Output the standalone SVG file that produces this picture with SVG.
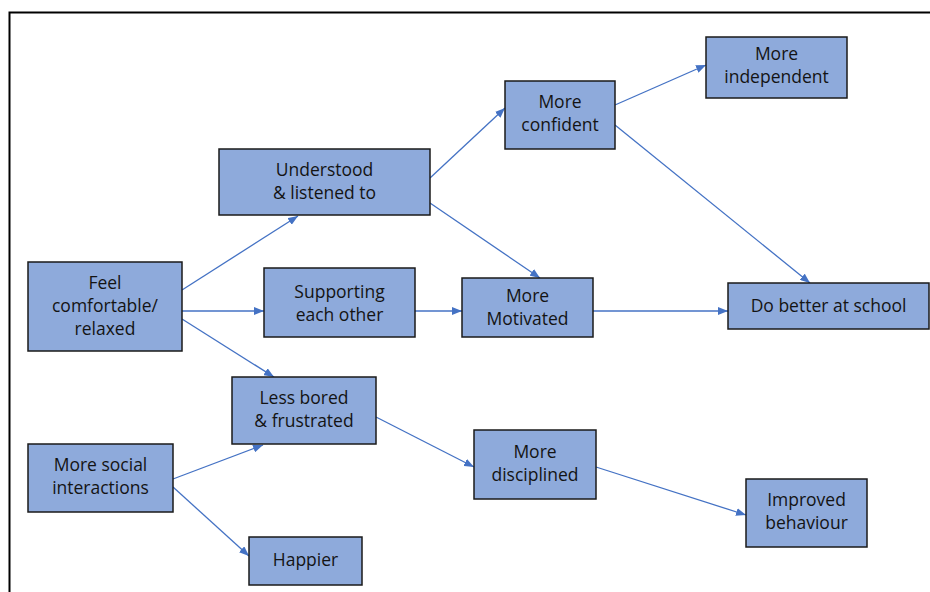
<svg xmlns="http://www.w3.org/2000/svg" width="930" height="592" viewBox="0 0 930 592">
<defs>
<marker id="ah" viewBox="0 0 10 8" refX="10" refY="4" markerWidth="10" markerHeight="8" markerUnits="userSpaceOnUse" orient="auto">
<path d="M0,0 L10,4 L0,8 Z" fill="#4472c4"/>
</marker>
<style>
.box{fill:#8eaadb;stroke:#1a1a1a;stroke-width:1.5}
.t{font-family:"Open Sans","Noto Sans","DejaVu Sans",sans-serif;font-size:17.5px;fill:#141414;text-anchor:middle}
.c{stroke:#4472c4;stroke-width:1.3;fill:none;marker-end:url(#ah)}
</style>
</defs>
<rect width="930" height="592" fill="#ffffff"/>
<path d="M9.5,592 V12.5 H930" fill="none" stroke="#000" stroke-width="2"/>
<g id="connectors">
<line class="c" x1="182" y1="290" x2="298" y2="216"/>
<line class="c" x1="182" y1="311" x2="264" y2="311"/>
<line class="c" x1="182" y1="319" x2="274" y2="377"/>
<line class="c" x1="430" y1="178" x2="505" y2="108"/>
<line class="c" x1="430" y1="203" x2="540" y2="278"/>
<line class="c" x1="415" y1="311" x2="462" y2="311"/>
<line class="c" x1="615" y1="105" x2="706" y2="65"/>
<line class="c" x1="615" y1="125" x2="810" y2="283"/>
<line class="c" x1="593" y1="311" x2="728" y2="311"/>
<line class="c" x1="173" y1="479" x2="263" y2="445"/>
<line class="c" x1="173" y1="487" x2="249" y2="556"/>
<line class="c" x1="376" y1="417" x2="474" y2="467"/>
<line class="c" x1="596" y1="467" x2="746" y2="515"/>
</g>
<g id="feel">
<rect class="box" x="28" y="262" width="154" height="89"/>
<text class="t" x="105" y="289">Feel</text>
<text class="t" x="105" y="312">comfortable/</text>
<text class="t" x="105" y="335">relaxed</text>
</g>
<g id="understood">
<rect class="box" x="219" y="149" width="211" height="66"/>
<text class="t" x="324.5" y="176">Understood</text>
<text class="t" x="324.5" y="199">&amp; listened to</text>
</g>
<g id="supporting">
<rect class="box" x="264" y="268" width="151" height="69"/>
<text class="t" x="339.5" y="298">Supporting</text>
<text class="t" x="339.5" y="321">each other</text>
</g>
<g id="lessbored">
<rect class="box" x="232" y="377" width="144" height="67"/>
<text class="t" x="304" y="404">Less bored</text>
<text class="t" x="304" y="427">&amp; frustrated</text>
</g>
<g id="social">
<rect class="box" x="28" y="444" width="145" height="68"/>
<text class="t" x="100.5" y="471">More social</text>
<text class="t" x="100.5" y="494">interactions</text>
</g>
<g id="happier">
<rect class="box" x="249" y="537" width="113" height="48"/>
<text class="t" x="305.5" y="566">Happier</text>
</g>
<g id="confident">
<rect class="box" x="505" y="81" width="110" height="68"/>
<text class="t" x="560" y="108">More</text>
<text class="t" x="560" y="131">confident</text>
</g>
<g id="independent">
<rect class="box" x="706" y="37" width="141" height="61"/>
<text class="t" x="776.5" y="60">More</text>
<text class="t" x="776.5" y="83">independent</text>
</g>
<g id="motivated">
<rect class="box" x="462" y="278" width="131" height="59"/>
<text class="t" x="527.5" y="302">More</text>
<text class="t" x="527.5" y="325">Motivated</text>
</g>
<g id="disciplined">
<rect class="box" x="474" y="430" width="122" height="69"/>
<text class="t" x="535" y="458">More</text>
<text class="t" x="535" y="481">disciplined</text>
</g>
<g id="dobetter">
<rect class="box" x="728" y="283" width="201" height="46"/>
<text class="t" x="828.5" y="312">Do better at school</text>
</g>
<g id="improved">
<rect class="box" x="746" y="479" width="121" height="68"/>
<text class="t" x="806.5" y="506">Improved</text>
<text class="t" x="806.5" y="529">behaviour</text>
</g>
</svg>
